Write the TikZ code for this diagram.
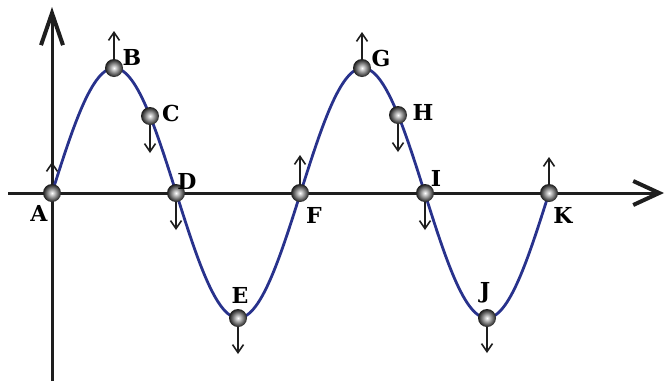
\documentclass[tikz,border=0pt]{standalone}
\usepackage{fontspec}
\setmainfont{DejaVu Serif}
\usetikzlibrary{arrows.meta}
\definecolor{axisc}{RGB}{30,30,30}
\definecolor{wavec}{RGB}{40,50,140}
\tikzset{
  axisline/.style={draw=axisc, line width=3pt},
  wave/.style={draw=wavec, line width=2.8pt},
  ball/.style={circle, minimum size=18pt, inner sep=0pt, shading=radial, inner color=white, outer color=black!90},
  vec/.style={draw=axisc, line width=1.6pt, -{Straight Barb[length=8pt,width=11pt,line width=1.6pt]}},
  lbl/.style={font=\fontsize{22}{22}\selectfont\bfseries, inner sep=0pt}
}
\begin{document}
\begin{tikzpicture}[x=1pt,y=-1pt]
\useasboundingbox (0,0) rectangle (665,381);
% axes
\coordinate (xs) at (8,193);
\coordinate (xe) at (664,193);
\coordinate (ys) at (52,381);
\coordinate (ye) at (52,7);
\draw[axisline, -{Straight Barb[length=26pt,width=24pt,line width=4pt]}] (xs) -- (xe);
\draw[axisline, -{Straight Barb[length=32pt,width=22pt,line width=4pt]}] (ys) -- (ye);
% wave
\draw[wave] plot[domain=52:549, samples=250, smooth] (\x, {193-125*sin((\x-52)*1.448692)});
% ball positions
\coordinate (pA) at (52,193);
\coordinate (pB) at (114,68);
\coordinate (pC) at (150,116);
\coordinate (pD) at (176,193);
\coordinate (pE) at (238,318);
\coordinate (pF) at (300,193);
\coordinate (pG) at (362,68);
\coordinate (pH) at (398,115);
\coordinate (pI) at (425,193);
\coordinate (pJ) at (487,318);
\coordinate (pK) at (549,193);
% velocity arrows
\draw[vec] (pA) -- ++(0,-31);
\draw[vec] (pB) -- ++(0,-37);
\draw[vec] (pC) -- ++(0,37);
\draw[vec] (pD) -- ++(0,37);
\draw[vec] (pE) -- ++(0,36);
\draw[vec] (pF) -- ++(0,-38);
\draw[vec] (pG) -- ++(0,-36);
\draw[vec] (pH) -- ++(0,37);
\draw[vec] (pI) -- ++(0,37);
\draw[vec] (pJ) -- ++(0,35);
\draw[vec] (pK) -- ++(0,-36);
% balls
\foreach \n in {A,B,C,D,E,F,G,H,I,J,K}{\node[ball] (b\n) at (p\n) {};}
% labels
\node[lbl] (lA) at (39,213) {A};
\node[lbl] (lB) at (132,57) {B};
\node[lbl] (lC) at (171,113) {C};
\node[lbl] (lD) at (187,181) {D};
\node[lbl] (lE) at (240,295) {E};
\node[lbl] (lF) at (314,215) {F};
\node[lbl] (lG) at (381,58) {G};
\node[lbl] (lH) at (423,112) {H};
\node[lbl] (lI) at (436,178) {I};
\node[lbl] (lJ) at (485,293) {J};
\node[lbl] (lK) at (563,215) {K};
\end{tikzpicture}
\end{document}
